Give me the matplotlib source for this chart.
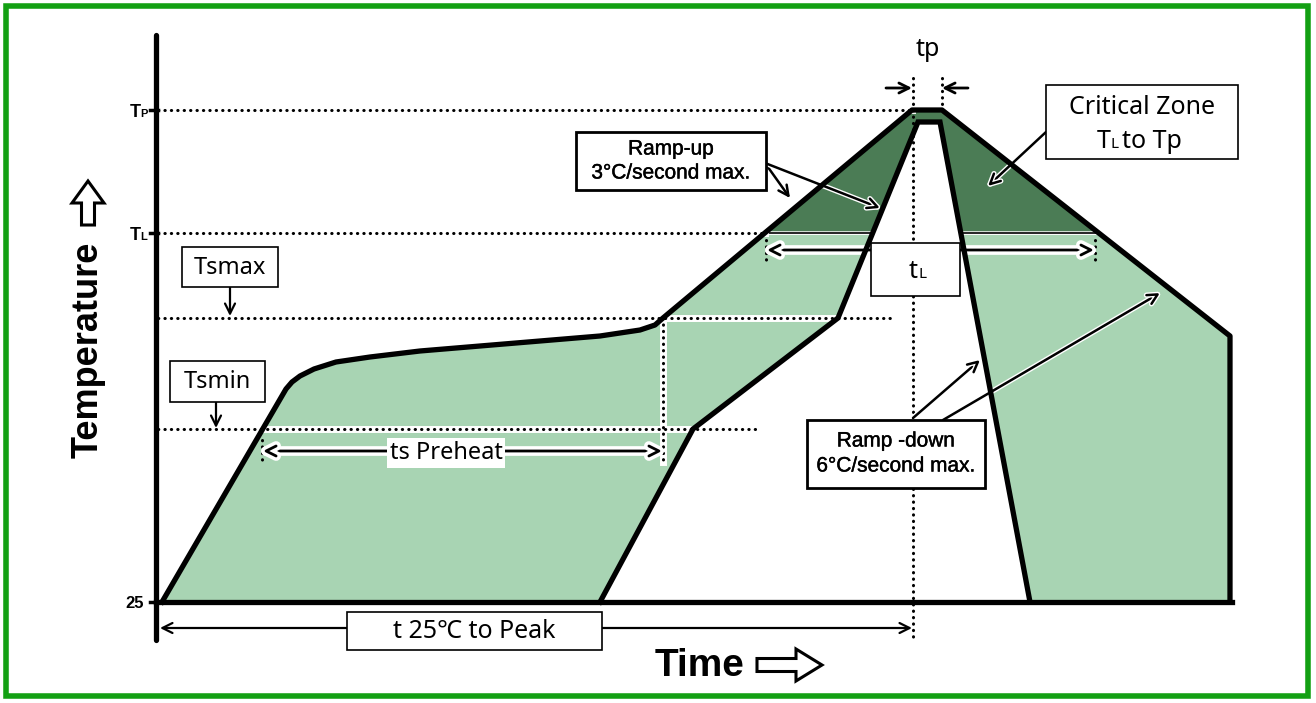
import numpy as np
import matplotlib.pyplot as plt
import matplotlib.patches as patches
import matplotlib.patheffects as pe

# temperature levels (rows of the sketch, top = hot)
T25, TSMIN, TSMAX, TL, TP = 602, 429, 318, 233, 110

# upper (slowest allowed) profile: time, temperature
upper_x = [162, 286, 292, 300, 314, 336, 370, 420, 480, 540, 600, 640, 655, 663, 912, 942, 1230, 1230]
upper_y = [602, 389, 382, 376, 369, 362, 357, 351, 346, 341, 336, 330, 325, 318, 110, 110, 336, 602]
# lower (fastest allowed) profile
lower_x = [600, 693, 838, 918, 940, 1030]
lower_y = [602, 429, 318, 122, 122, 602]

LIGHT = '#a8d4b3'
DARK = '#4b7c55'
BOLD = 'Liberation Sans'
SANS = ['Noto Sans', 'Noto Sans CJK KR', 'DejaVu Sans']

fig = plt.figure(figsize=(13.16, 7.03), dpi=100)
ax = fig.add_axes([0, 0, 1, 1])
ax.set_xlim(0, 1316)
ax.set_ylim(703, 0)
ax.axis('off')

# where the profiles cross TL
heat_n = upper_x.index(912) + 1
ux, uy = np.array(upper_x[:heat_n]), np.array(upper_y[:heat_n])
xl_up = np.interp(TL, uy[::-1], ux[::-1])
lx, ly = np.array(lower_x[:4]), np.array(lower_y[:4])
xl_low = np.interp(TL, ly[::-1], lx[::-1])
xr_low = np.interp(TL, lower_y[4:], lower_x[4:])
xr_up = np.interp(TL, upper_y[heat_n:heat_n + 2], upper_x[heat_n:heat_n + 2])

left = [(x, y) for x, y in zip(ux, uy) if y > TL] + [(xl_up, TL), (xl_low, TL)] + \
       [(x, y) for x, y in zip(lx, ly) if y > TL][::-1]
dark = [(xl_up, TL)] + [(x, y) for x, y in zip(upper_x[:heat_n + 1], upper_y[:heat_n + 1]) if y < TL] + \
       [(xr_up, TL), (xr_low, TL), (lower_x[4], lower_y[4]), (lower_x[3], lower_y[3]), (xl_low, TL)]
right = [(xr_low, TL), (lower_x[5], lower_y[5]), (upper_x[-1], upper_y[-1]), (upper_x[-2], upper_y[-2]), (xr_up, TL)]

for poly, c in [(left, LIGHT), (right, LIGHT), (dark, DARK)]:
    ax.add_patch(patches.Polygon(poly, closed=True, fc=c, ec='white', lw=2.5, zorder=1))
ax.plot([xl_up, xl_low], [TL, TL], color='black', lw=1.2, zorder=1.5)
ax.plot([xr_low, xr_up], [TL, TL], color='black', lw=1.2, zorder=1.5)


def dotted(xs, ys, halo=True):
    if halo:
        ax.plot(xs, ys, color='white', lw=5, zorder=2)
    ax.plot(xs, ys, color='black', lw=2.2, linestyle=(0, (0.1, 2.0)),
            dash_capstyle='round', zorder=2.1)


dotted([158, 912], [TP, TP])
dotted([158, xl_up], [TL, TL])
dotted([158, 890], [TSMAX, TSMAX])
dotted([158, 757], [TSMIN, TSMIN])
dotted([663, 663], [TSMAX, 462])
dotted([913, 913], [78, 640], halo=False)
dotted([942, 942], [78, TP], halo=False)
dotted([262, 262], [440, 462], halo=False)
dotted([766, 766], [240, 262], halo=False)
dotted([1095, 1095], [240, 262], halo=False)


def arrow(x0, y0, x1, y1, style='->', lw=1.6, halo=0, ms=18, z=3):
    a = ax.annotate('', xy=(x1, y1), xytext=(x0, y0), zorder=z,
                    arrowprops=dict(arrowstyle=style, color='black', lw=lw,
                                    shrinkA=0, shrinkB=0, mutation_scale=ms))
    if halo:
        a.arrow_patch.set_path_effects([pe.Stroke(linewidth=lw + halo, foreground='white'), pe.Normal()])
    return a


# dimension arrows
arrow(263, 451, 662, 451, style='<->', lw=2, halo=5)
arrow(767, 250, 1094, 250, style='<->', lw=2, halo=5)
arrow(160, 628, 912, 628, style='<->', lw=1.6)
arrow(886, 88, 912, 88, lw=2)
arrow(968, 88, 942, 88, lw=2)

# callout arrows
arrow(765, 163, 790, 198, lw=1.8)
arrow(765, 163, 880, 208, lw=1.8, halo=2)
arrow(913, 418, 980, 360, lw=1.8, halo=2)
arrow(943, 420, 1160, 293, lw=1.8, halo=2)
arrow(1046, 132, 988, 186, lw=1.8, halo=2)

# profile outlines
ax.plot(upper_x, upper_y, color='black', lw=3.8, solid_joinstyle='round', zorder=4)
ax.plot(lower_x, lower_y, color='black', lw=3.8, solid_joinstyle='miter', zorder=4)
ax.plot([156, 1232], [T25, T25], color='black', lw=3.8, zorder=4)
ax.plot([156, 156], [35, 640], color='black', lw=3.8, zorder=4, solid_capstyle='round')
for yy in [TP, TL, T25]:
    ax.plot([150, 158], [yy, yy], color='black', lw=2.5, zorder=4)

# axis labels
ax.text(141, 117, 'T', fontfamily=BOLD, fontweight='bold', fontsize=13, ha='right', va='baseline')
ax.text(140, 117, 'P', fontfamily=BOLD, fontweight='bold', fontsize=8, ha='left', va='baseline')
ax.text(141, 240, 'T', fontfamily=BOLD, fontweight='bold', fontsize=13, ha='right', va='baseline')
ax.text(140, 240, 'L', fontfamily=BOLD, fontweight='bold', fontsize=8, ha='left', va='baseline')
ax.text(144, 603, '25', fontfamily=BOLD, fontweight='bold', fontsize=12, ha='right', va='center')

ax.text(88, 350, 'Temperature', fontfamily=BOLD, fontweight='bold', fontsize=26,
        rotation=90, ha='center', va='center')
ax.add_patch(patches.FancyArrow(88, 225, 0, -44, width=13, head_width=32, head_length=22,
                                length_includes_head=True, fc='white', ec='black', lw=2.2, zorder=5))
ax.text(700, 666, 'Time', fontfamily=BOLD, fontweight='bold', fontsize=28, ha='center', va='center')
ax.add_patch(patches.FancyArrow(757, 665, 65, 0, width=13, head_width=32, head_length=26,
                                length_includes_head=True, fc='white', ec='black', lw=2.2, zorder=5))


def box(x0, y0, x1, y1, lw=1.2):
    ax.add_patch(patches.Rectangle((x0, y0), x1 - x0, y1 - y0, fc='white', ec='black', lw=lw, zorder=5))


box(182, 247, 278, 287)
ax.text(230, 268, 'Tsmax', fontfamily=SANS, fontsize=17, ha='center', va='center', zorder=6)
arrow(230, 287, 230, 316, lw=1.6)
box(170, 361, 265, 402)
ax.text(217, 382, 'Tsmin', fontfamily=SANS, fontsize=17, ha='center', va='center', zorder=6)
arrow(216, 402, 216, 428, lw=1.6)

ax.text(446, 453, 'ts Preheat', fontfamily=SANS, fontsize=17, ha='center', va='center', zorder=6,
        bbox=dict(fc='white', ec='none', pad=2))

box(347, 612, 602, 650)
ax.text(474, 631, 't 25℃ to Peak', fontfamily=SANS, fontsize=18, ha='center', va='center', zorder=6)

box(871, 243, 960, 296)
ax.text(918, 278, 't', fontfamily=SANS, fontsize=18, ha='right', va='baseline', zorder=6)
ax.text(918, 278, 'L', fontfamily=SANS, fontsize=11, ha='left', va='baseline', zorder=6)

ax.text(928, 50, 'tp', fontfamily=SANS, fontsize=18, ha='center', va='center', zorder=6)

heavy = [pe.withStroke(linewidth=0.3, foreground='black')]
box(576, 132, 766, 190, lw=2)
ax.text(671, 149, 'Ramp-up', fontfamily=BOLD, fontsize=15, ha='center', va='center', zorder=6, path_effects=heavy)
ax.text(671, 173, '3°C/second max.', fontfamily=BOLD, fontsize=15, ha='center', va='center', zorder=6, path_effects=heavy)

box(807, 420, 985, 488, lw=2)
ax.text(896, 441, 'Ramp -down', fontfamily=BOLD, fontsize=15, ha='center', va='center', zorder=6, path_effects=heavy)
ax.text(896, 466, '6°C/second max.', fontfamily=BOLD, fontsize=15, ha='center', va='center', zorder=6, path_effects=heavy)

box(1046, 85, 1238, 159)
ax.text(1142, 107, 'Critical Zone', fontfamily=SANS, fontsize=18, ha='center', va='center', zorder=6)
ax.text(1111, 148, 'T', fontfamily=SANS, fontsize=18, ha='right', va='baseline', zorder=6)
ax.text(1111, 148, 'L', fontfamily=SANS, fontsize=11, ha='left', va='baseline', zorder=6)
ax.text(1122, 148, 'to Tp', fontfamily=SANS, fontsize=18, ha='left', va='baseline', zorder=6)

# frame
ax.add_patch(patches.Rectangle((6, 6), 1302, 690, fill=False, ec='#13a013', lw=4, zorder=7))

fig.savefig('out.png', dpi=100)
